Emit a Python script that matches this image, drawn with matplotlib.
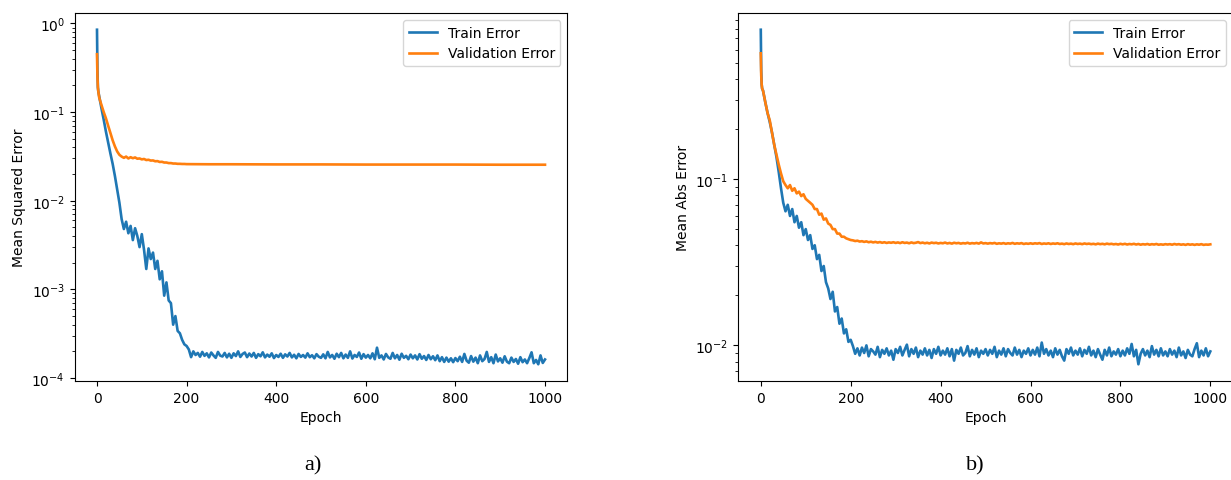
import matplotlib
matplotlib.use("Agg")
import matplotlib.pyplot as plt

# epochs: first few epochs one by one, then every 5th epoch
early_epochs = [0, 1, 2, 3]
epochs = early_epochs + list(range(5, 1001, 5))

# a) mean squared error
train_mse = [0.85, 0.30, 0.19, 0.17] + [
    0.150, 0.110, 0.082, 0.060, 0.045, 0.034, 0.026, 0.019, 0.0135, 0.0095,
    0.0062, 0.0048, 0.0058, 0.0043, 0.0052, 0.0036, 0.0049, 0.0040, 0.0030, 0.0042,
    0.0028, 0.0017, 0.0029, 0.0022, 0.0026, 0.0017, 0.0021, 0.0013, 0.0016, 0.00085,
    0.0012, 0.00075, 0.00070, 0.00040, 0.00050, 0.00034, 0.00032, 0.00027, 0.00024, 0.00023,
    2.1e-4, 1.72e-4, 2.0e-4, 1.82e-4, 1.92e-4, 1.74e-4, 1.97e-4, 1.78e-4, 1.9e-4, 1.71e-4,
    1.94e-4, 1.8e-4, 1.69e-4, 1.97e-4, 1.79e-4, 1.75e-4, 1.92e-4, 1.71e-4, 1.88e-4, 1.69e-4,
    1.9e-4, 1.77e-4, 2.0e-4, 1.73e-4, 1.87e-4, 1.94e-4, 1.72e-4, 1.89e-4, 1.75e-4, 1.92e-4,
    1.69e-4, 1.86e-4, 1.76e-4, 1.95e-4, 1.71e-4, 1.84e-4, 1.74e-4, 1.9e-4, 1.68e-4, 1.82e-4,
    1.73e-4, 1.88e-4, 1.69e-4, 1.85e-4, 1.75e-4, 1.92e-4, 1.71e-4, 1.83e-4, 1.67e-4, 1.87e-4,
    1.73e-4, 1.82e-4, 1.7e-4, 1.9e-4, 1.72e-4, 1.81e-4, 1.67e-4, 1.86e-4, 1.74e-4, 1.69e-4,
    1.85e-4, 1.67e-4, 1.97e-4, 1.71e-4, 1.82e-4, 1.65e-4, 1.88e-4, 1.72e-4, 1.92e-4, 1.67e-4,
    1.84e-4, 1.69e-4, 2.0e-4, 1.66e-4, 1.82e-4, 1.73e-4, 1.94e-4, 1.65e-4, 1.86e-4, 1.7e-4,
    1.82e-4, 1.67e-4, 1.9e-4, 1.63e-4, 2.2e-4, 1.69e-4, 1.8e-4, 1.62e-4, 1.87e-4, 1.71e-4,
    1.65e-4, 1.92e-4, 1.67e-4, 1.82e-4, 1.61e-4, 1.88e-4, 1.69e-4, 1.78e-4, 1.63e-4, 1.84e-4,
    1.67e-4, 1.8e-4, 1.62e-4, 1.86e-4, 1.65e-4, 1.77e-4, 1.6e-4, 1.82e-4, 1.63e-4, 1.76e-4,
    1.59e-4, 1.8e-4, 1.55e-4, 1.72e-4, 1.52e-4, 1.7e-4, 1.53e-4, 1.67e-4, 1.51e-4, 1.68e-4,
    1.55e-4, 1.74e-4, 1.52e-4, 1.87e-4, 1.57e-4, 1.49e-4, 1.77e-4, 1.53e-4, 1.7e-4, 1.47e-4,
    1.8e-4, 1.55e-4, 1.64e-4, 1.97e-4, 1.52e-4, 1.72e-4, 1.47e-4, 1.84e-4, 1.54e-4, 1.67e-4,
    1.49e-4, 1.76e-4, 1.53e-4, 1.47e-4, 1.7e-4, 1.52e-4, 1.64e-4, 1.45e-4, 1.72e-4, 1.51e-4,
    1.62e-4, 1.47e-4, 1.68e-4, 1.95e-4, 1.47e-4, 1.6e-4, 1.43e-4, 1.8e-4, 1.48e-4, 1.62e-4,
]

val_mse_epochs = early_epochs + list(range(5, 201, 5)) + [250, 300, 400, 500, 600, 700, 800, 900, 1000]
val_mse = [0.45, 0.25, 0.19, 0.17] + [
    0.145, 0.12, 0.10, 0.085, 0.07, 0.058, 0.048, 0.041, 0.036, 0.033,
    0.0315, 0.0305, 0.0315, 0.0300, 0.0310, 0.0302, 0.0308, 0.0298, 0.0300, 0.0293,
    0.0296, 0.0288, 0.0290, 0.0284, 0.0285, 0.0279, 0.0280, 0.0274, 0.0275, 0.0270,
    0.0270, 0.0266, 0.0266, 0.0263, 0.0263, 0.0261, 0.0261, 0.0260, 0.0260, 0.0259,
    0.0258, 0.0258, 0.0257, 0.0257, 0.0256, 0.0256, 0.0256, 0.0255, 0.0255,
]

# b) mean absolute error
train_mae = [0.79, 0.45, 0.37, 0.35] + [
    0.34, 0.29, 0.25, 0.22, 0.19, 0.16, 0.135, 0.11, 0.088, 0.072,
    0.064, 0.070, 0.060, 0.066, 0.055, 0.060, 0.051, 0.055, 0.046, 0.050,
    0.043, 0.046, 0.038, 0.040, 0.033, 0.035, 0.028, 0.030, 0.024, 0.022,
    0.019, 0.021, 0.016, 0.017, 0.0135, 0.0145, 0.0118, 0.0125, 0.0105, 0.0108,
    0.0099, 0.0089, 0.0096, 0.0087, 0.0097, 0.0090, 0.0100, 0.0086, 0.0095, 0.0092,
    0.0088, 0.0098, 0.0085, 0.0094, 0.0089, 0.0096, 0.0087, 0.0093, 0.0082, 0.0095,
    0.0090, 0.0098, 0.0087, 0.0094, 0.0101, 0.0086, 0.0095, 0.0089, 0.0097, 0.0085,
    0.0093, 0.0088, 0.0096, 0.0087, 0.0094, 0.0084, 0.0095, 0.0089, 0.0098, 0.0087,
    0.0093, 0.0088, 0.0096, 0.0086, 0.0095, 0.0081, 0.0094, 0.0089, 0.0097, 0.0087,
    0.0090, 0.0099, 0.0086, 0.0094, 0.0088, 0.0096, 0.0085, 0.0093, 0.0089, 0.0095,
    0.0087, 0.0094, 0.0089, 0.0098, 0.0085, 0.0093, 0.0088, 0.0096, 0.0086, 0.0095,
    0.0090, 0.0087, 0.0097, 0.0088, 0.0094, 0.0085, 0.0093, 0.0089, 0.0096, 0.0087,
    0.0094, 0.0088, 0.0097, 0.0086, 0.0104, 0.0089, 0.0095, 0.0087, 0.0093, 0.0085,
    0.0096, 0.0088, 0.0094, 0.0086, 0.0081, 0.0095, 0.0089, 0.0097, 0.0087, 0.0093,
    0.0088, 0.0096, 0.0086, 0.0094, 0.0089, 0.0098, 0.0087, 0.0093, 0.0085, 0.0095,
    0.0088, 0.0082, 0.0094, 0.0087, 0.0097, 0.0086, 0.0092, 0.0088, 0.0095, 0.0086,
    0.0093, 0.0087, 0.0096, 0.0089, 0.0102, 0.0086, 0.0094, 0.0077, 0.0089, 0.0095,
    0.0087, 0.0093, 0.0085, 0.0099, 0.0088, 0.0094, 0.0086, 0.0096, 0.0087, 0.0092,
    0.0086, 0.0095, 0.0088, 0.0093, 0.0085, 0.0097, 0.0087, 0.0092, 0.0084, 0.0094,
    0.0088, 0.0086, 0.0095, 0.0103, 0.0085, 0.0093, 0.0087, 0.0096, 0.0086, 0.0092,
]

val_mae = [0.57, 0.42, 0.37, 0.35] + [
    0.34, 0.29, 0.25, 0.225, 0.19, 0.16, 0.14, 0.122, 0.108, 0.097,
    0.092, 0.088, 0.092, 0.085, 0.088, 0.082, 0.084, 0.079, 0.081, 0.076,
    0.074, 0.072, 0.070, 0.066, 0.066, 0.061, 0.062, 0.057, 0.058, 0.054,
    0.053, 0.050, 0.050, 0.047, 0.047, 0.045, 0.045, 0.044, 0.0435, 0.0430,
    0.0428, 0.0424, 0.0426, 0.0421, 0.0423, 0.0419, 0.0422, 0.0417, 0.0420, 0.0416,
    0.0419, 0.0415, 0.0418, 0.0414, 0.0417, 0.0413, 0.0416, 0.0414, 0.0417, 0.0413,
    0.0416, 0.0412, 0.0417, 0.0413, 0.0415, 0.0411, 0.0416, 0.0412, 0.0414, 0.0418,
    0.0412, 0.0415, 0.0411, 0.0414, 0.0410, 0.0415, 0.0412, 0.0414, 0.0410, 0.0413,
    0.0411, 0.0415, 0.0410, 0.0413, 0.0409, 0.0414, 0.0411, 0.0413, 0.0409, 0.0412,
    0.0410, 0.0414, 0.0409, 0.0412, 0.0410, 0.0413, 0.0409, 0.0416, 0.0410, 0.0412,
    0.0409, 0.0412, 0.0410, 0.0413, 0.0408, 0.0411, 0.0409, 0.0412, 0.0408, 0.0411,
    0.0409, 0.0413, 0.0408, 0.0411, 0.0409, 0.0412, 0.0407, 0.0410, 0.0408, 0.0411,
    0.0408, 0.0411, 0.0409, 0.0412, 0.0407, 0.0410, 0.0408, 0.0411, 0.0407, 0.0410,
    0.0408, 0.0411, 0.0407, 0.0409, 0.0406, 0.0410, 0.0407, 0.0409, 0.0406, 0.0410,
    0.0407, 0.0409, 0.0406, 0.0410, 0.0407, 0.0409, 0.0406, 0.0408, 0.0405, 0.0409,
    0.0406, 0.0408, 0.0405, 0.0409, 0.0406, 0.0408, 0.0405, 0.0407, 0.0404, 0.0408,
    0.0405, 0.0408, 0.0404, 0.0407, 0.0405, 0.0408, 0.0404, 0.0407, 0.0403, 0.0406,
    0.0404, 0.0407, 0.0403, 0.0406, 0.0404, 0.0407, 0.0403, 0.0405, 0.0403, 0.0406,
    0.0404, 0.0406, 0.0403, 0.0407, 0.0404, 0.0406, 0.0403, 0.0405, 0.0402, 0.0406,
    0.0403, 0.0405, 0.0402, 0.0405, 0.0403, 0.0406, 0.0402, 0.0404, 0.0403, 0.0405,
]

W, H = 1231, 481
fig = plt.figure(figsize=(W / 100, H / 100), dpi=100)

ax1 = fig.add_axes([74.6 / W, 1 - 382 / H, 492.8 / W, 368 / H])
ax1.plot(epochs, train_mse, label="Train Error", lw=1.9)
ax1.plot(val_mse_epochs, val_mse, label="Validation Error", lw=1.9)
ax1.set_yscale("log")
ax1.set_xlabel("Epoch")
ax1.set_ylabel("Mean Squared Error")
ax1.legend(loc="upper right")

ax2 = fig.add_axes([738.3 / W, 1 - 382 / H, 494.5 / W, 368 / H])
ax2.plot(epochs, train_mae, label="Train Error", lw=1.9)
ax2.plot(epochs, val_mae, label="Validation Error", lw=1.9)
ax2.set_yscale("log")
ax2.set_xlabel("Epoch")
ax2.set_ylabel("Mean Abs Error")
ax2.legend(loc="upper right")

fig.text(313 / W, 1 - 466 / H, "a)", ha="center", va="center",
         family="Liberation Serif", fontsize=16)
fig.text(975 / W, 1 - 466 / H, "b)", ha="center", va="center",
         family="Liberation Serif", fontsize=16)

fig.savefig("out.png", dpi=100)
